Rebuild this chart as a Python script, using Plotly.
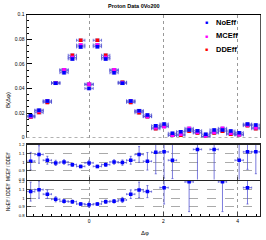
import numpy as np
import plotly.graph_objects as go

# ---------------- data ----------------
n_bins = 28
first_bin = -7          # bin index of the first bin relative to dphi = 0
bin_w = 2 * np.pi / n_bins

no_eff = [0.0180, 0.0224, 0.0298, 0.0442, 0.0529, 0.0640, 0.0738, 0.0401, 0.0740, 0.0640,
          0.0528, 0.0442, 0.0298, 0.0220, 0.0185, 0.0097, 0.0111, 0.0036, 0.0049, 0.0063,
          0.0057, 0.0028, 0.0063, 0.0063, 0.0054, 0.0041, 0.0111, 0.0103]
mc_eff = [0.0172, 0.0220, 0.0298, 0.0444, 0.0552, 0.0652, 0.0753, 0.0435, 0.0754, 0.0652,
          0.0552, 0.0446, 0.0298, 0.0215, 0.0172, 0.0081, 0.0090, 0.0020, 0.0028, 0.0076,
          0.0044, 0.0010, 0.0044, 0.0076, 0.0036, 0.0024, 0.0104, 0.0081]
dd_eff = [0.0168, 0.0204, 0.0287, 0.0447, 0.0548, 0.0670, 0.0792, 0.0433, 0.0792, 0.0670,
          0.0547, 0.0451, 0.0287, 0.0203, 0.0171, 0.0073, 0.0094, 0.0020, 0.0020, 0.0053,
          0.0038, 0.0008, 0.0038, 0.0053, 0.0028, 0.0024, 0.0098, 0.0073]
stat_err = [0.0010] * 14 + [0.0009] * 14

ratio_mc = [1.01, 1.086, 1.02, 0.99, 1.00, 0.97, 0.95, 0.99, 0.95, 0.97,
            1.00, 0.993, 1.02, 1.086, 1.008, 1.11, 1.116, 1.02, 1.60, 1.45,
            1.144, 1.215, 1.144, 1.45, 1.50, 1.02, 1.116, 1.116]
ratio_mc_err = [0.10, 0.10, 0.045, 0.03, 0.025, 0.02, 0.015, 0.03, 0.015, 0.02,
                0.025, 0.03, 0.045, 0.09, 0.10, 0.245, 0.30, 0.21, 0.30, 0.20,
                0.40, 0.01, 0.40, 0.20, 0.25, 0.30, 0.20, 0.25]
ratio_no = [1.077, 1.10, 1.047, 0.988, 0.965, 0.96, 0.934, 0.926, 0.934, 0.96,
            0.965, 0.98, 1.047, 1.097, 1.077, 1.33, 1.123, 1.85, 2.45, 1.19,
            1.50, 3.50, 1.66, 1.19, 1.93, 1.70, 1.123, 1.41]
ratio_no_err = [0.11, 0.10, 0.05, 0.03, 0.02, 0.02, 0.015, 0.03, 0.015, 0.02,
                0.02, 0.03, 0.05, 0.09, 0.07, 0.10, 0.19, 0.50, 0.60, 0.345,
                0.25, 1.00, 0.30, 0.345, 0.40, 0.40, 0.19, 0.15]

x_ticks = [0, 2, 4]
main_y_ticks = [0, 0.02, 0.04, 0.06, 0.08, 0.1]
main_y_text = ["0", "0.02", "0.04", "0.06", "0.08", "0.1"]
ratio_ticks = [0.8, 0.9, 1.0, 1.1, 1.2]
ratio_tick_text = ["0.8", "0.9", "1", "1.1", "1.2"]

# ---------------- layout helpers ----------------
W, H = 266, 240
def px(x):
    return x / W
def py(y):
    return 1 - y / H

centers = (np.arange(n_bins) + first_bin) * bin_w
x_range = [(first_bin - 0.5) * bin_w, (first_bin + n_bins - 0.5) * bin_w]
half_w = [bin_w / 2] * n_bins

FONT = "Liberation Sans, Arial, sans-serif"
err_col = "rgba(80,80,210,0.75)"

fig = go.Figure()

for name, vals, col in [("DDEff", dd_eff, "#ff0000"), ("MCEff", mc_eff, "#ff00ff"), ("NoEff", no_eff, "#0000ff")]:
    fig.add_trace(go.Scatter(
        x=centers, y=vals, mode="markers", name=name, showlegend=False,
        marker=dict(symbol="square", size=3.5, color=col),
        error_x=dict(type="data", array=half_w, color=err_col, thickness=1, width=1.5),
        error_y=dict(type="data", array=stat_err, color=err_col, thickness=1, width=2.5),
        xaxis="x", yaxis="y"))

fig.add_trace(go.Scatter(
    x=centers, y=ratio_mc, mode="markers", showlegend=False, name="MCEff / DDEff",
    marker=dict(symbol="square", size=3.5, color="#0000ff"),
    error_x=dict(type="data", array=half_w, color=err_col, thickness=1, width=1),
    error_y=dict(type="data", array=ratio_mc_err, color=err_col, thickness=1, width=1),
    xaxis="x2", yaxis="y2", cliponaxis=True))

fig.add_trace(go.Scatter(
    x=centers, y=ratio_no, mode="markers", showlegend=False, name="NoEff / DDEff",
    marker=dict(symbol="square", size=3.5, color="#0000ff"),
    error_x=dict(type="data", array=half_w, color=err_col, thickness=1, width=1),
    error_y=dict(type="data", array=ratio_no_err, color=err_col, thickness=1, width=1),
    xaxis="x3", yaxis="y3", cliponaxis=True))

xd = [px(26.5), px(260)]
tickfont = dict(family=FONT, size=5, color="black")
grid = dict(showgrid=True, gridcolor="#999999", griddash="dot", gridwidth=1)

fig.update_layout(
    width=W, height=H, margin=dict(l=0, r=0, t=0, b=0, autoexpand=False),
    paper_bgcolor="white", plot_bgcolor="white",
    font=dict(family=FONT, size=5, color="black"),
    xaxis=dict(domain=xd, anchor="y", range=x_range, side="top", showline=True,
               linecolor="black", linewidth=1, showticklabels=False, ticks="",
               tickvals=x_ticks, zeroline=False, automargin=False, **grid),
    yaxis=dict(domain=[py(137.7), py(14.7)], anchor="x", range=[0, 0.1], side="left",
               tickvals=main_y_ticks, ticktext=main_y_text, ticks="inside", ticklen=5,
               tickcolor="black", ticklabelposition="outside", automargin=False,
               showline=True, mirror=True, linecolor="#555555", linewidth=1,
               showgrid=False, zeroline=False, tickfont=tickfont,
               minor=dict(dtick=0.005, ticks="inside", ticklen=2.5, tickcolor="black")),
    xaxis2=dict(domain=xd, anchor="y2", range=x_range, showticklabels=False,
                showline=True, mirror=True, linecolor="#222222", linewidth=1.5,
                tickvals=x_ticks, ticks="inside", ticklen=3, zeroline=False,
                automargin=False, **grid),
    yaxis2=dict(domain=[py(179.5), py(144.5)], anchor="x2", range=[0.8, 1.2], side="left",
                tickvals=ratio_ticks, ticktext=ratio_tick_text, ticks="inside", ticklen=4,
                ticklabelposition="outside", automargin=False,
                showline=True, mirror=True, linecolor="#222222", linewidth=1,
                zeroline=False, tickfont=dict(family=FONT, size=4.3, color="black"),
                showgrid=True, gridcolor="#aaaaaa", griddash="dash", gridwidth=1),
    xaxis3=dict(domain=xd, anchor="y3", range=x_range, tickvals=x_ticks,
                showline=True, mirror=True, linecolor="#222222", linewidth=1.5,
                ticks="inside", ticklen=4, zeroline=False, tickfont=tickfont,
                automargin=False,
                minor=dict(dtick=0.25, ticks="inside", ticklen=2, tickcolor="black"),
                **grid),
    yaxis3=dict(domain=[py(215.5), py(181)], anchor="x3", range=[0.8, 1.2], side="left",
                tickvals=ratio_ticks, ticktext=ratio_tick_text, ticks="inside", ticklen=4,
                ticklabelposition="outside", automargin=False,
                showline=True, mirror=True, linecolor="#222222", linewidth=1,
                zeroline=False, tickfont=dict(family=FONT, size=4.3, color="black"),
                showgrid=True, gridcolor="#aaaaaa", griddash="dash", gridwidth=1),
)

# dotted baseline at zero in the main panel
fig.add_shape(type="line", xref="x domain", yref="y", x0=0, x1=1, y0=0, y1=0,
              line=dict(color="#999999", width=1.5, dash="dot"))

ann = []
ann.append(dict(text="<b>Proton Data 0Vo200</b>", x=px(134), y=py(5.5), xref="paper", yref="paper",
                xanchor="center", yanchor="middle",
                showarrow=False, font=dict(family=FONT, size=5.5, color="black")))
ann.append(dict(text="B(Δφ)", x=px(8), y=py(100), xref="paper", yref="paper", textangle=-90,
                xanchor="center", yanchor="middle",
                showarrow=False, font=dict(family=FONT, size=6, color="black")))
ann.append(dict(text="NoEff / DDEff  MCEff / DDEff", x=px(8), y=py(182), xref="paper", yref="paper",
                xanchor="center", yanchor="middle",
                textangle=-90, showarrow=False, font=dict(family=FONT, size=4.6, color="black")))
ann.append(dict(text="Δφ", x=px(145), y=py(232.5), xref="paper", yref="paper",
                xanchor="center", yanchor="middle",
                showarrow=False, font=dict(family=FONT, size=6, color="black")))

legend_rows = [("NoEff", "#0000ff", 22.3), ("MCEff", "#ff00ff", 35.7), ("DDEff", "#ff0000", 49.3)]
for label, col, yy in legend_rows:
    ann.append(dict(text="■", x=px(206.5), y=py(yy), xref="paper", yref="paper",
                    xanchor="center", yanchor="middle",
                    showarrow=False, font=dict(family=FONT, size=5, color=col)))
    ann.append(dict(text="<b>" + label + "</b>", x=px(213.5), y=py(yy), xref="paper", yref="paper",
                    xanchor="left", yanchor="middle",
                    showarrow=False, font=dict(family=FONT, size=7.5, color="black")))
fig.update_layout(annotations=ann)

fig.write_html("out.html",
               config={"displayModeBar": False, "staticPlot": True},
               post_script="document.body.style.margin='0';document.body.style.padding='0';")
